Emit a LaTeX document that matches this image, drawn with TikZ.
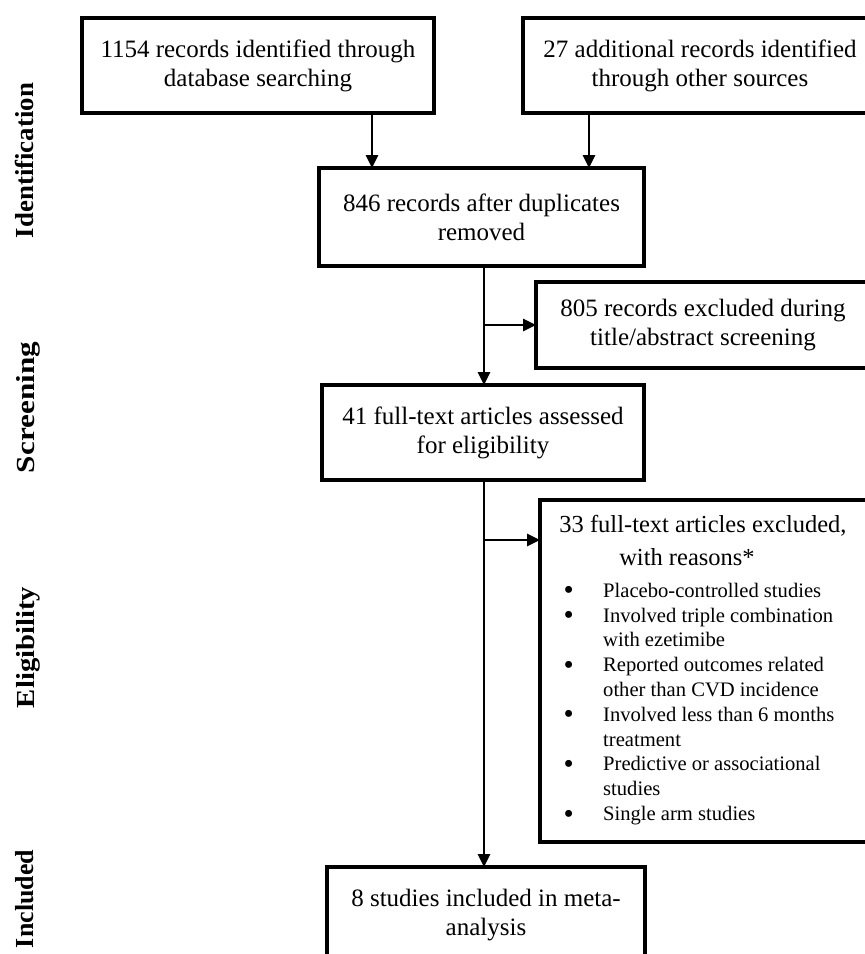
\documentclass[tikz,border=0pt]{standalone}
\usepackage{fontspec}
\usepackage{graphicx}
\setmainfont{Liberation Serif}
\usetikzlibrary{arrows.meta}
\newcommand{\bul}{\makebox[38.6pt][l]{\hspace*{-1pt}\raisebox{-2.6pt}{\fontsize{29}{29}\selectfont •}}}
\tikzset{
  box/.style={draw, line width=3.6pt, rectangle, anchor=north west, inner sep=0pt, outer sep=0pt,
    align=center, font=\fontsize{25}{29}\selectfont},
  arr/.style={line width=2.8pt, -{Triangle[length=13pt,width=12pt]}},
  phase/.style={rotate=90, anchor=base, inner sep=0pt, font=\bfseries\fontsize{26}{30}\selectfont},
  txt/.style={inner sep=0pt, anchor=base},
}
\begin{document}
\begin{tikzpicture}[x=1pt,y=-1pt]
\useasboundingbox (0,0) rectangle (865,954);
\fill[white] (0,0) rectangle (865,954);
\clip (0,0) rectangle (865,954);

% phase labels
\node[phase] (pid) at (34,160.5) {\resizebox{155pt}{\height}{Identification}};
\node[phase] (psc) at (34,407.5) {\resizebox{131pt}{\height}{Screening}};
\node[phase] (pel) at (34,647.5) {\resizebox{121pt}{\height}{Eligibility}};
\node[phase] (pin) at (33,899) {\resizebox{98pt}{\height}{Included}};

% boxes
\node[box, minimum width=352pt, minimum height=95pt] (B1) at (82,18)
  {1154 records identified through\\database searching};
\node[box, minimum width=354pt, minimum height=95pt] (B2) at (523,18)
  {27 additional records identified\\through other sources};
\node[box, minimum width=325pt, minimum height=98pt] (B3) at (319,168)
  {846 records after duplicates\\removed};
\node[box, minimum width=334pt, minimum height=86pt] (B3x) at (536,282)
  {805 records excluded during\\title/abstract screening};
\node[box, minimum width=322pt, minimum height=95pt] (B4) at (322,385)
  {41 full-text articles assessed\\for eligibility};
\node[box, minimum width=330pt, minimum height=342pt] (B5) at (540,500) {};
\node[box, minimum width=318pt, minimum height=96pt] (B6) at (327,867)
  {8 studies included in meta-\\analysis};

% contents of exclusion box
\node[txt, font=\fontsize{24.5}{29}\selectfont] (t1) at (703,532) {33 full-text articles excluded,};
\node[txt, font=\fontsize{24.5}{29}\selectfont] (t2) at (687,565) {with reasons*};
\node[inner sep=0pt, anchor=north west, font=\fontsize{20.6}{24.8}\selectfont] (list) at (564.4,579.64)
{\begin{tabular}{@{}l@{}l@{}}
\bul & Placebo-controlled studies\\
\bul & Involved triple combination\\
 & with ezetimibe\\
\bul & Reported outcomes related\\
 & other than CVD incidence\\
\bul & Involved less than 6 months\\
 & treatment\\
\bul & Predictive or associational\\
 & studies\\
\bul & Single arm studies
\end{tabular}};

% connectors
\coordinate (c1) at (372,0);
\coordinate (c2) at (589,0);
\coordinate (m) at (484,0);
\coordinate (br) at (484,540);
\draw[arr] (c1 |- B1.south) -- (c1 |- B3.north);
\draw[arr] (c2 |- B2.south) -- (c2 |- B3.north);
\draw[arr] (m |- B3.south) -- (m |- B4.north);
\draw[arr] (m |- B3x.west) -- (B3x.west);
\draw[arr] (m |- B4.south) -- (m |- B6.north);
\draw[arr] (br) -- (br -| B5.west);
\end{tikzpicture}
\end{document}
